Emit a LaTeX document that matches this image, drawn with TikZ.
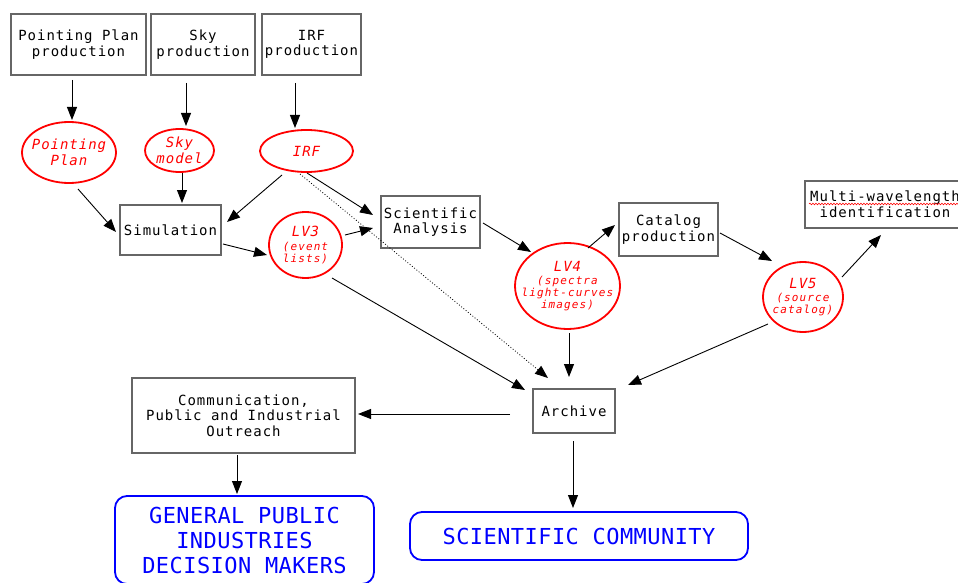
\documentclass[tikz,border=0pt]{standalone}
\usepackage{fontspec}
\usetikzlibrary{arrows.meta,shapes.geometric,calc,decorations.pathmorphing}
\newfontfamily\labelfont[LetterSpace=7]{DejaVu Sans Mono}
\newfontfamily\notefont[LetterSpace=10]{DejaVu Sans Mono}
\newfontfamily\audfont[LetterSpace=2]{DejaVu Sans Mono}
\tikzset{
  proc/.style={draw=black!60, line width=1.2pt, fill=white, inner sep=0pt,
    align=center, font=\labelfont\fontsize{14}{15.6}\selectfont},
  dataell/.style={ellipse, draw=red, line width=1.8pt, inner sep=0pt},
  datatext/.style={text=red, align=center, inner sep=0pt,
    font=\labelfont\itshape\fontsize{14}{15.6}\selectfont},
  audience/.style={draw=blue, line width=1.8pt, rounded corners=12pt, text=blue,
    inner sep=0pt, align=center, font=\audfont\fontsize{22}{25}\selectfont},
  arr/.style={line width=0.9pt, -{Triangle[length=13pt,width=10pt]}},
}
\newcommand{\smallnote}{\notefont\itshape\fontsize{11}{12}\selectfont}
\begin{document}
\begin{tikzpicture}[x=1pt,y=-1pt]
\useasboundingbox[fill=white] (0,0) rectangle (958,583);

% producers
\node[proc, minimum width=135pt, minimum height=61pt] (ppprod) at (78.5,44.5) {Pointing Plan\\production};
\node[proc, minimum width=104pt, minimum height=61pt] (skyprod) at (203,44.5) {Sky\\production};
\node[proc, minimum width=99pt, minimum height=61pt] (irfprod) at (311.5,44.5) {IRF\\production};

% data products
\node[dataell, minimum width=94pt, minimum height=61pt] (ppell) at (69,152.5) {};
\node[datatext] at (ppell) {Pointing\\Plan};
\node[dataell, minimum width=69pt, minimum height=43pt] (skymodel) at (179.5,150.5) {};
\node[datatext] at (skymodel) {Sky\\model};
\node[dataell, minimum width=93pt, minimum height=42pt] (irf) at (306.5,151) {};
\node[datatext] at (irf) {IRF};

% processing chain
\node[proc, minimum width=101pt, minimum height=50pt] (sim) at (170.5,230) {Simulation};
\node[dataell, minimum width=73pt, minimum height=66pt] (lv3) at (305.5,245) {};
\node[datatext] at (lv3) {LV3\\[-2pt]\smallnote (event\\[-3.5pt]\smallnote lists)};
\node[proc, minimum width=99pt, minimum height=52pt] (sci) at (430.5,222) {Scientific\\Analysis};
\node[dataell, minimum width=105pt, minimum height=86pt] (lv4) at (567.5,286) {};
\node[datatext] at (lv4) {LV4\\[-2pt]\smallnote (spectra\\[-3.5pt]\smallnote light-curves\\[-3.5pt]\smallnote images)};
\node[proc, minimum width=99pt, minimum height=53pt] (cat) at (668.5,229.5) {Catalog\\production};
\node[dataell, minimum width=80pt, minimum height=70pt] (lv5) at (803,297) {};
\node[datatext] at (lv5) {LV5\\[-2pt]\smallnote (source\\[-3.5pt]\smallnote catalog)};
\node[proc, minimum width=160pt, minimum height=47pt] (multi) at (885,204.5) {Multi-wavelength\\identification};
\draw[red, line width=0.6pt, decorate, decoration={snake, amplitude=0.8pt, segment length=3pt}]
  ($(multi)+(-76,-0.5)$) -- ($(multi)+(75,-0.5)$);

% archive and outreach
\node[proc, minimum width=82pt, minimum height=44pt] (archive) at (574,411) {Archive};
\node[proc, minimum width=223pt, minimum height=75pt] (comm) at (243.5,415.5) {Communication,\\Public and Industrial\\Outreach};
\node[audience, minimum width=259pt, minimum height=88pt] (pub) at (244.5,540) {GENERAL PUBLIC\\INDUSTRIES\\DECISION MAKERS};
\node[audience, minimum width=338pt, minimum height=48pt] (scicom) at (579,536) {SCIENTIFIC COMMUNITY};

% connectors
\draw[arr] ($(ppprod)+(-6.5,35.5)$) -- ($(ppell)+(3,-32.5)$);
\draw[arr] ($(skyprod)+(-17,38.5)$) -- ($(skymodel)+(6.5,-24.5)$);
\draw[arr] ($(irfprod)+(-16.5,38.5)$) -- ($(irf)+(-11.5,-23)$);
\draw[arr] ($(ppell)+(9,36.5)$) -- ($(sim)+(-54.5,2)$);
\draw[arr] ($(skymodel)+(2.5,22.5)$) -- ($(sim)+(11.5,-27)$);
\draw[arr] ($(irf)+(-24.5,24)$) -- ($(sim)+(56.5,-8)$);
\draw[arr] ($(irf)+(0.5,22)$) -- ($(sci)+(-57.5,-7)$);
\draw[arr, dotted, line width=0.8pt] ($(irf)+(-6.5,23)$) -- ($(archive)+(-26,-33)$);
\draw[arr] ($(sim)+(52.5,14)$) -- ($(lv3)+(-38.5,10)$);
\draw[arr] ($(lv3)+(39.5,-10)$) -- ($(sci)+(-57.5,6)$);
\draw[arr] ($(lv3)+(26.5,33)$) -- ($(archive)+(-49,-21)$);
\draw[arr] ($(sci)+(52.5,1)$) -- ($(lv4)+(-36.5,-34)$);
\draw[arr] ($(lv4)+(20.5,-38)$) -- ($(cat)+(-53.5,-4.5)$);
\draw[arr] ($(cat)+(51.5,3.5)$) -- ($(lv5)+(-31,-36)$);
\draw[arr] ($(lv5)+(39,-20)$) -- ($(multi)+(-4,30.5)$);
\draw[arr] ($(lv5)+(-35,27)$) -- ($(archive)+(54,-26)$);
\draw[arr] ($(lv4)+(1.5,47)$) -- ($(archive)+(-5,-34)$);
\draw[arr] ($(archive)+(-64,3)$) -- ($(comm)+(114.5,-1.5)$);
\draw[arr] ($(comm)+(-6.5,39.5)$) -- ($(pub)+(-7.5,-46)$);
\draw[arr] ($(archive)+(-1,30)$) -- ($(scicom)+(-6,-28)$);
\end{tikzpicture}
\end{document}
